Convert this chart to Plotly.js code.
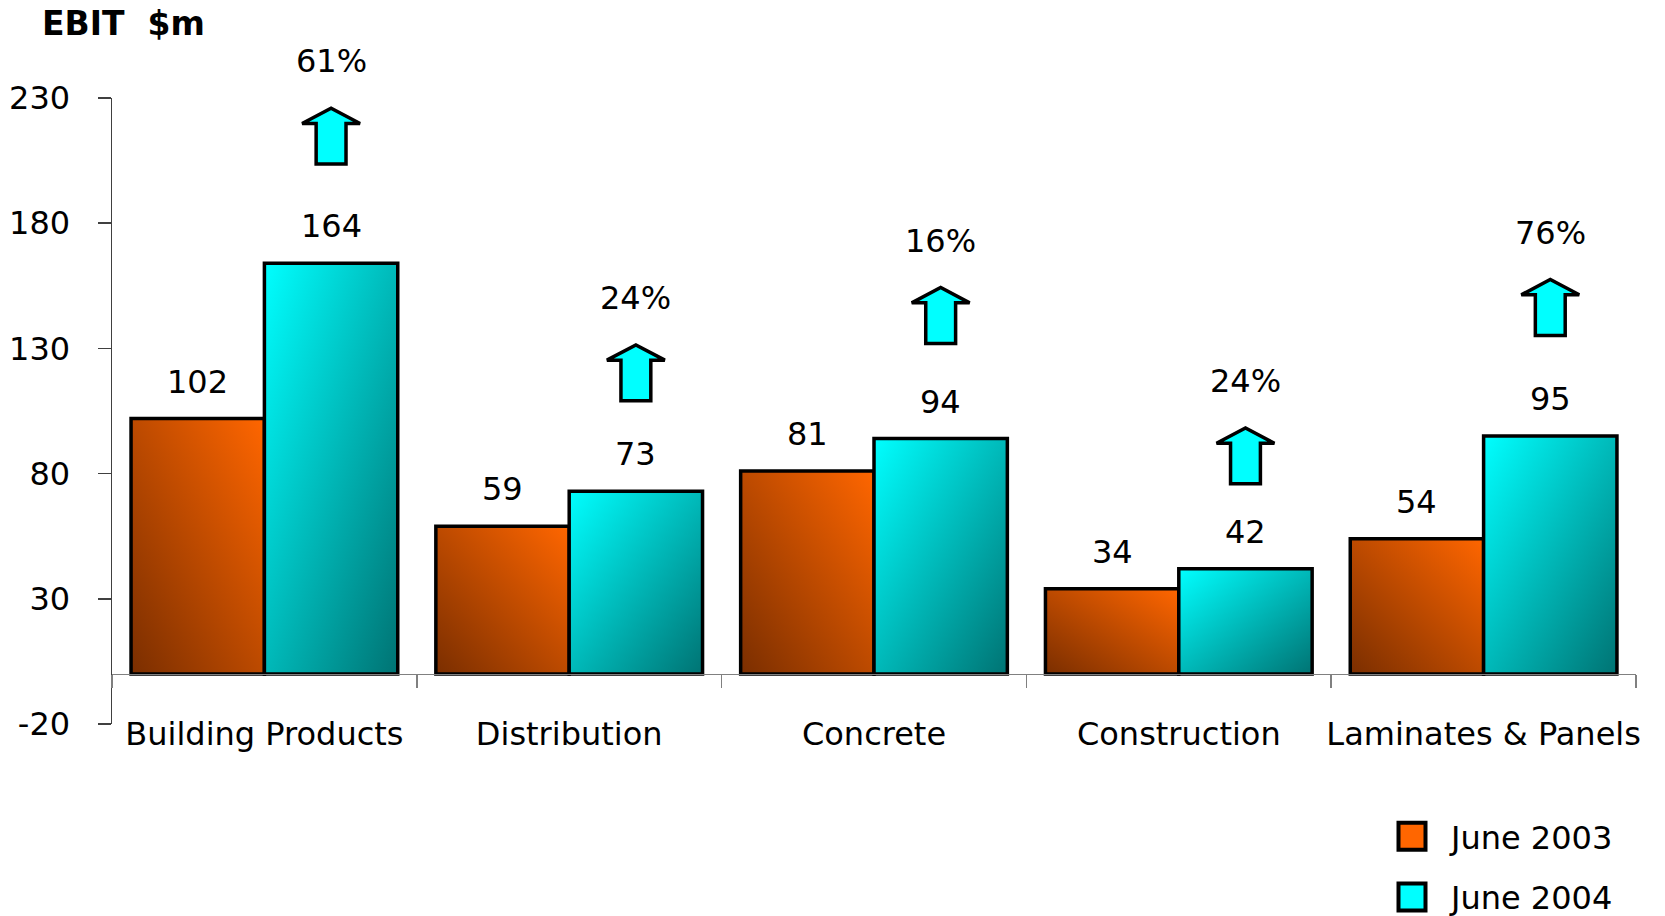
<!DOCTYPE html>
<html><head><meta charset="utf-8">
<script src="https://cdn.plot.ly/plotly-3.0.1.min.js"></script>
<style>html,body{margin:0;padding:0;background:#fff;} #chart{width:1665px;height:916px;}</style>
</head><body><div id="chart"></div>
<script>
const categories = ['Building Products', 'Distribution', 'Concrete', 'Construction', 'Laminates & Panels'];
const seriesNames = ['June 2003', 'June 2004'];
const ebit2003 = [102, 59, 81, 34, 54];
const ebit2004 = [164, 73, 94, 42, 95];
const growthLabels = ['61%', '24%', '16%', '24%', '76%'];
const arrowBase = [203.6, 109.1, 132.0, 75.9, 135.2];
const yTicks = [-20, 30, 80, 130, 180, 230];

const FONT = 'DejaVu Sans, Verdana, sans-serif';
const bargap = 0.125;
const half = (1 - bargap) / 4;  // center offset of each bar in a group of two

const barLine = {color: '#000', width: 3.5};
const traces = [
  {type: 'bar', name: seriesNames[0], x: categories, y: ebit2003, legendgroup: 'a',
   marker: {color: '#ff6600', line: barLine}},
  {type: 'bar', name: seriesNames[1], x: categories, y: ebit2004, legendgroup: 'b',
   marker: {color: '#00ffff', line: barLine}}
];

const annotations = [];
categories.forEach((c, i) => {
  annotations.push({x: i - half, y: ebit2003[i], xref: 'x', yref: 'y', text: String(ebit2003[i]),
    showarrow: false, yanchor: 'middle', yshift: 37, font: {size: 32}});
  annotations.push({x: i + half, y: ebit2004[i], xref: 'x', yref: 'y', text: String(ebit2004[i]),
    showarrow: false, yanchor: 'middle', yshift: 37, font: {size: 32}});
});

const arrowH = 22.3, headH = 6.1, headHW = 0.095, shaftHW = 0.049;
const shapes = [];
categories.forEach((c, i) => {
  const cx = i + half, b = arrowBase[i], t = b + arrowH, hb = t - headH;
  shapes.push({type: 'path', xref: 'x', yref: 'y', layer: 'above',
    path: `M ${cx - shaftHW},${b} L ${cx - shaftHW},${hb} L ${cx - headHW},${hb} L ${cx},${t} L ${cx + headHW},${hb} L ${cx + shaftHW},${hb} L ${cx + shaftHW},${b} Z`,
    fillcolor: '#00ffff', line: {color: '#000', width: 3.5}});
  annotations.push({x: cx, y: t, xref: 'x', yref: 'y', text: growthLabels[i], showarrow: false,
    yanchor: 'middle', yshift: 47, font: {size: 32}});
});

const layout = {
  width: 1665, height: 916,
  margin: {l: 112, r: 29, t: 98, b: 192, autoexpand: false},
  paper_bgcolor: '#fff', plot_bgcolor: '#fff',
  font: {family: FONT, size: 32, color: '#000'},
  title: {text: '<b>EBIT\u00a0 $m</b>', xref: 'container', yref: 'container', x: 42 / 1665, xanchor: 'left',
          y: 1 - 23 / 916, yanchor: 'middle', font: {size: 33, color: '#000'}},
  barmode: 'group', bargap: bargap, bargroupgap: 0,
  showlegend: true,
  legend: {x: (1373 - 112) / 1524, xanchor: 'left', y: (724 - 809) / 626, yanchor: 'top',
           font: {size: 32}, itemwidth: 68, tracegroupgap: 16, bgcolor: 'rgba(0,0,0,0)', borderwidth: 0},
  xaxis: {type: 'category', anchor: 'free', position: 20 / 250, range: [-0.5, 4.5], automargin: false,
          showline: true, linecolor: '#808080', linewidth: 1.5, tickangle: 0,
          ticks: 'outside', tickson: 'boundaries', ticklen: 13, tickcolor: '#808080', tickwidth: 1.5,
          showgrid: false, zeroline: false, tickfont: {size: 32}, ticklabelstandoff: 31},
  yaxis: {range: [-20, 230], tickvals: yTicks, ticktext: yTicks.map(String), automargin: false,
          showline: true, linecolor: '#404040', linewidth: 1.5,
          ticks: 'outside', ticklen: 13, tickcolor: '#404040', tickwidth: 1.5,
          showgrid: false, zeroline: false, tickfont: {size: 32}, ticklabelstandoff: 21},
  annotations: annotations,
  shapes: shapes
};

const gd = document.getElementById('chart');
Plotly.newPlot(gd, traces, layout, {staticPlot: true, displayModeBar: false}).then(() => {
  const NS = 'http://www.w3.org/2000/svg';
  const defs = gd.querySelector('svg.main-svg defs');
  function grad(id, x1, y1, x2, y2, c1, c2) {
    const g = document.createElementNS(NS, 'linearGradient');
    g.setAttribute('id', id);
    g.setAttribute('x1', x1); g.setAttribute('y1', y1);
    g.setAttribute('x2', x2); g.setAttribute('y2', y2);
    [[0, c1], [1, c2]].forEach(([o, c]) => {
      const s = document.createElementNS(NS, 'stop');
      s.setAttribute('offset', o); s.setAttribute('stop-color', c);
      g.appendChild(s);
    });
    defs.appendChild(g);
  }
  grad('gOrange', 0, 1, 1, 0, '#7a2e00', '#ff6600');
  grad('gCyan', 0, 0, 1, 1, '#00ffff', '#007373');
  const barTraces = gd.querySelectorAll('.barlayer .trace');
  const ids = ['gOrange', 'gCyan'];
  barTraces.forEach((tr, k) => {
    tr.querySelectorAll('path').forEach(p => { p.style.fill = `url(#${ids[k]})`; });
  });
  gd.querySelectorAll('.legend .legendpoints path').forEach(p => {
    const t = p.getAttribute('transform') || '';
    p.setAttribute('transform', t + ' scale(2.25)');
    p.setAttribute('vector-effect', 'non-scaling-stroke');
    p.style.strokeWidth = '4px';
    p.style.stroke = '#000';
  });
});
</script>
</body></html>
